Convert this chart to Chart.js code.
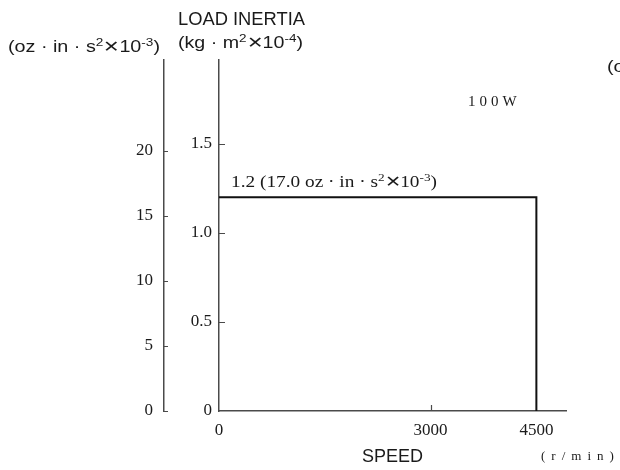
<!DOCTYPE html>
<html>
<head>
<meta charset="utf-8">
<script src="https://cdn.jsdelivr.net/npm/chart.js@4.4.1/dist/chart.umd.min.js"></script>
<style>
  html, body { margin: 0; padding: 0; background: #ffffff; }
  #wrap { width: 620px; height: 470px; position: relative; }
</style>
</head>
<body>
<div id="wrap"><canvas id="c" width="620" height="470"></canvas></div>
<script>
// Operating envelope of the 100W motor: load inertia vs speed
const speed = [0, 4500, 4500];          // r/min
const inertia = [1.2, 1.2, 0];          // kg·m²×10⁻⁴

// Axis ticks
const speedTicks = [0, 3000, 4500];
const inertiaTicks = [0, 0.5, 1.0, 1.5];
const ozTicks = [0, 5, 10, 15, 20];

const speedMax = 4920;
const inertiaMax = 1.97;
const ozMax = 27;

const serif = '"Liberation Serif", "DejaVu Serif", serif';
const sans = '"Liberation Sans", Arial, sans-serif';
const axisColor = '#4a4a4a';
const ink = '#1a1a1a';

const points = speed.map((s, i) => ({ x: s, y: inertia[i] }));

// Unit strings split into normal / superscript runs
const kgUnit = [['(kg · m'], ['2', 1], ['✕10'], ['-4', 1], [')']];
const ozUnit = [['(oz · in · s'], ['2', 1], ['✕10'], ['-3', 1], [')']];
const maxLabel = [['1.2 (17.0 oz · in · s'], ['2', 1], ['✕10'], ['-3', 1], [')']];

// Draw a run of text (with superscripts) starting at x, stretched to the given width
function drawRich(ctx, runs, x, y, size, family, width) {
  const fontN = size + 'px ' + family;
  const fontS = Math.round(size * 0.66) + 'px ' + family;
  let total = 0;
  runs.forEach(([t, sup]) => { ctx.font = sup ? fontS : fontN; total += ctx.measureText(t).width; });
  const k = width ? width / total : 1;
  ctx.save();
  ctx.translate(x, y);
  ctx.scale(k, 1);
  let cx = 0;
  runs.forEach(([t, sup]) => {
    ctx.font = sup ? fontS : fontN;
    ctx.fillText(t, cx, sup ? -size * 0.3 : 0);
    cx += ctx.measureText(t).width;
  });
  ctx.restore();
}

// Inward tick marks plus the free-standing captions
const decorations = {
  id: 'decorations',
  afterDraw(chart) {
    const ctx = chart.ctx;
    const xs = chart.scales.x, ys = chart.scales.y, oz = chart.scales.oz;
    ctx.save();
    ctx.strokeStyle = axisColor;
    ctx.lineWidth = 1.2;
    ctx.beginPath();
    inertiaTicks.filter(v => v > 0).forEach(v => {
      const py = Math.round(ys.getPixelForValue(v)) + 0.5;
      ctx.moveTo(xs.left, py); ctx.lineTo(xs.left + 6, py);
    });
    ozTicks.forEach(v => {
      const py = Math.round(oz.getPixelForValue(v)) + 0.5;
      ctx.moveTo(oz.right, py); ctx.lineTo(oz.right + 4, py);
    });
    speedTicks.filter(v => v > 0 && v < 4500).forEach(v => {
      const px = Math.round(xs.getPixelForValue(v)) + 0.5;
      ctx.moveTo(px, ys.bottom); ctx.lineTo(px, ys.bottom - 6);
    });
    ctx.stroke();

    ctx.fillStyle = ink;
    ctx.textBaseline = 'middle';
    ctx.textAlign = 'left';

    drawRich(ctx, [['LOAD INERTIA']], 178, 20, 18, sans, 127);
    drawRich(ctx, kgUnit, 178, 44, 16, sans, 125);
    drawRich(ctx, ozUnit, 8, 48, 16, sans, 152);
    drawRich(ctx, ozUnit, 607, 68, 16, sans, 152);

    ctx.font = '15px ' + serif;
    ctx.letterSpacing = '4px';
    ctx.fillText('100W', 468, 102);
    ctx.letterSpacing = '0px';

    drawRich(ctx, maxLabel, xs.getPixelForValue(0) + 12,
      ys.getPixelForValue(inertia[0]) - 14, 16, serif, 206);

    ctx.font = '13px ' + serif;
    ctx.letterSpacing = '6px';
    ctx.fillText('(r/min)', 541, 457);
    ctx.restore();
  }
};

new Chart(document.getElementById('c'), {
  type: 'scatter',
  data: {
    datasets: [{
      data: points,
      showLine: true,
      borderColor: '#111111',
      borderWidth: 2,
      pointRadius: 0,
      tension: 0,
      xAxisID: 'x',
      yAxisID: 'y'
    }]
  },
  options: {
    responsive: false,
    animation: false,
    layout: { padding: { top: 60, right: 54, bottom: 0, left: 0 } },
    plugins: { legend: { display: false }, tooltip: { enabled: false } },
    scales: {
      x: {
        type: 'linear',
        min: 0, max: speedMax,
        afterBuildTicks: s => { s.ticks = speedTicks.map(v => ({ value: v })); },
        afterFit: s => { s.height = 59; },
        grid: { display: false, drawTicks: false },
        border: { display: true, color: axisColor, width: 1.5 },
        ticks: {
          padding: 9, color: ink, font: { family: serif, size: 17 },
          callback: v => String(v)
        },
        title: {
          display: true, text: 'SPEED', color: ink,
          font: { family: sans, size: 18 }, padding: { top: 0, bottom: 2 }
        }
      },
      y: {
        type: 'linear', position: 'left', weight: 0,
        min: 0, max: inertiaMax,
        afterBuildTicks: s => { s.ticks = inertiaTicks.map(v => ({ value: v })); },
        afterFit: s => { s.width = 55; },
        grid: { display: false, drawTicks: false },
        border: { display: true, color: axisColor, width: 1.5 },
        ticks: {
          padding: 7, color: ink, font: { family: serif, size: 17 },
          callback: v => v === 0 ? '0' : v.toFixed(1)
        }
      },
      oz: {
        type: 'linear', position: 'left', weight: 1,
        min: 0, max: ozMax,
        afterBuildTicks: s => { s.ticks = ozTicks.map(v => ({ value: v })); },
        afterFit: s => { s.width = 164; },
        grid: { display: false, drawTicks: false },
        border: { display: true, color: axisColor, width: 1.5 },
        ticks: {
          padding: 11, color: ink, font: { family: serif, size: 17 },
          callback: v => String(v)
        }
      }
    }
  },
  plugins: [decorations]
});
</script>
</body>
</html>
